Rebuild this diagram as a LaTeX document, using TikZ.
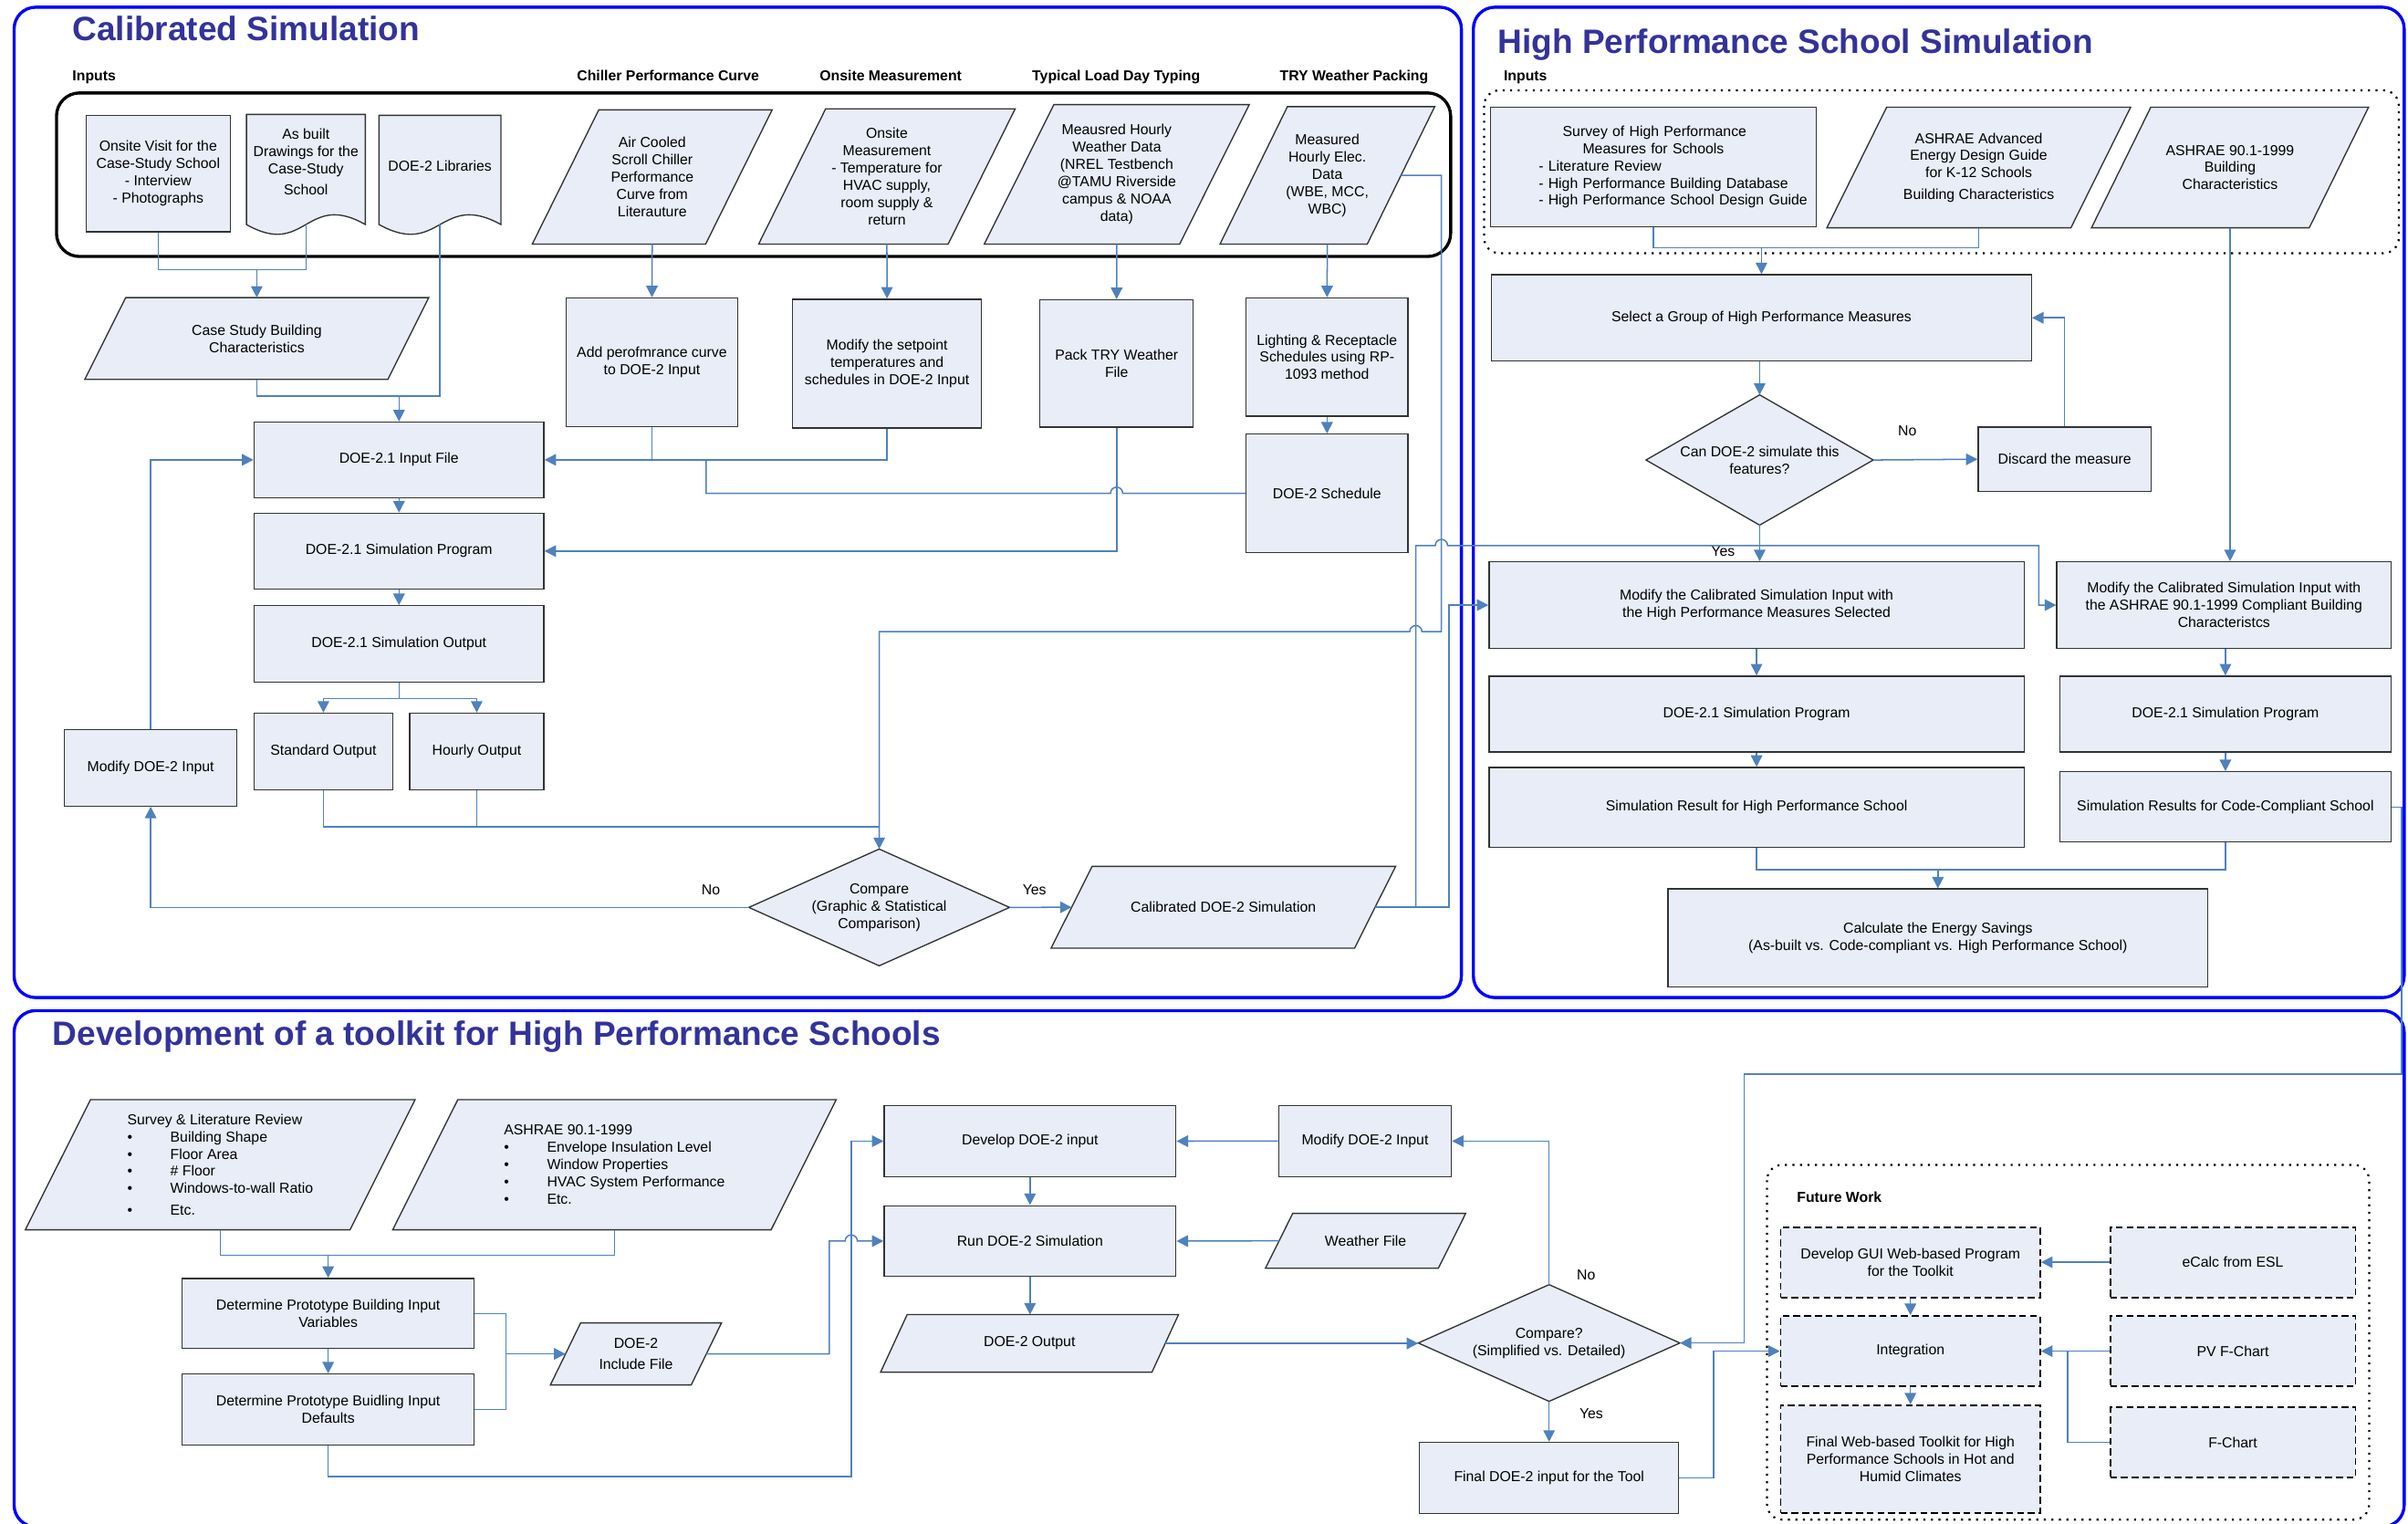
\documentclass[tikz,border=0pt]{standalone}
\usepackage{fontspec}
\setmainfont{Liberation Sans}
\usetikzlibrary{arrows.meta}
\usetikzlibrary{calc, backgrounds}

\definecolor{boxfill}{RGB}{232,237,247}
\definecolor{wireblue}{RGB}{79,129,189}
\definecolor{titleblue}{RGB}{51,51,153}
\definecolor{panelblue}{RGB}{0,0,255}

% outlines drawn behind a named text node
\newcommand\parashape[2]{%
  \begin{pgfonlayer}{background}
  \filldraw[outline] ($(#1.north west)+(#2/2,0)$) -- ($(#1.north east)+(#2/2,0)$)
    -- ($(#1.south east)-(#2/2,0)$) -- ($(#1.south west)-(#2/2,0)$) -- cycle;
  \end{pgfonlayer}}
\newcommand\docshape[2]{%
  \begin{pgfonlayer}{background}
  \filldraw[outline] (#1.north west) -- (#1.north east) -- ($(#1.south east)+(0,#2)$)
    .. controls ($(#1.south)+(0,#2-22)$) and ($(#1.south)+(0,#2+22)$) .. ($(#1.south west)+(0,#2)$) -- cycle;
  \end{pgfonlayer}
  \coordinate (#1-b) at ($(#1.south)+(0,#2)$);}
\newcommand\diashape[1]{%
  \begin{pgfonlayer}{background}
  \filldraw[outline] (#1.north) -- (#1.east) -- (#1.south) -- (#1.west) -- cycle;
  \end{pgfonlayer}}
\newcommand\blt{\makebox[28pt][l]{\textbullet}}

\begin{document}
\begin{tikzpicture}[x=1pt, y=-1pt,
  font=\fontsize{9.4}{11.25}\selectfont,
  sz/.style 2 args={minimum width=#1pt, minimum height=#2pt},
  box/.style={draw=black!80, line width=0.8pt, fill=boxfill, align=center, inner sep=1pt},
  dbox/.style={box, draw=black, line width=1.1pt, dash pattern=on 4.5pt off 2.5pt},
  shapetext/.style={align=center, inner sep=0pt},
  outline/.style={draw=black!80, line width=0.8pt, fill=boxfill},
  wire/.style={draw=wireblue, line width=0.9pt},
  flow/.style={wire, -{Triangle[length=7.5pt, width=7.5pt]}},
  panel/.style={draw=panelblue, line width=2pt, rounded corners=14pt},
  grp/.style={draw=black, line width=2pt, rounded corners=15pt},
  dotgrp/.style={draw=black, line width=1.3pt, dash pattern=on 1.3pt off 3.6pt, rounded corners=10pt},
  paneltitle/.style={font=\fontsize{22}{26}\selectfont\bfseries, text=titleblue, anchor=base west, inner sep=0pt},
  hdr/.style={font=\fontsize{9.4}{11.25}\selectfont\bfseries, anchor=base, inner sep=0pt}
  ]
\useasboundingbox (0,0) rectangle (1568,992);

\draw[panel] (9.2,4.7) rectangle (951.6,649.5);
\draw[panel] (959.4,4.7) rectangle (1565.5,649.5);
\draw[panel] (9.2,658) rectangle (1565.5,994);

%% Calibrated Simulation
\node[paneltitle] (t1) at (47,26.5) {Calibrated Simulation};
\node[hdr, anchor=base west] (h1) at (47,52.6) {Inputs};
\node[hdr] (h2) at (435,52.6) {Chiller Performance Curve};
\node[hdr] (h3) at (580,52.6) {Onsite Measurement};
\node[hdr] (h4) at (726.8,52.6) {Typical Load Day Typing};
\node[hdr] (h5) at (881.7,52.6) {TRY Weather Packing};
\draw[grp] (36.8,60.5) rectangle (944.6,167);

\node[box, sz={94}{76}] (inVisit) at (103,113) {Onsite Visit for the\\Case-Study School\\- Interview\\- Photographs};
\node[shapetext, sz={77}{61.6}] (inDraw) at (199.2,105.5) {As built\\Drawings for the\\Case-Study\\[2.8pt]School};
\docshape{inDraw}{9.7}
\node[shapetext, sz={79}{65}] (inLib) at (286.5,107.8) {DOE-2 Libraries};
\docshape{inLib}{5.7}
\node[shapetext, sz={112.5}{87}] (inChiller) at (424.7,115.2) {Air Cooled\\Scroll Chiller\\Performance\\Curve from\\Literauture};
\parashape{inChiller}{43.3}
\node[shapetext, sz={123}{87.6}] (inOnsite) at (577.5,114.9) {Onsite\\Measurement\\- Temperature for\\HVAC supply,\\room supply \&\\return};
\parashape{inOnsite}{43.6}
\node[shapetext, sz={126.8}{90.4}] (inWeather) at (727.2,113.5) {Meausred Hourly\\Weather Data\\(NREL Testbench\\@TAMU Riverside\\campus \& NOAA\\data)};
\parashape{inWeather}{45.3}
\node[shapetext, sz={95.5}{89.1}] (inElec) at (864.3,114.2) {Measured\\Hourly Elec.\\Data\\(WBE, MCC,\\WBC)};
\parashape{inElec}{43.9}

\node[shapetext, sz={197}{52.8}] (caseStudy) at (167.2,220.4) {Case Study Building\\Characteristics};
\parashape{caseStudy}{26.6}
\node[box, sz={188.7}{49.2}] (inFile) at (259.8,299.4) {DOE-2.1 Input File};
\node[box, sz={111.6}{83.6}] (addCurve) at (424.5,235.8) {Add perofmrance curve\\to DOE-2 Input};
\node[box, sz={122.8}{83.8}] (setpoint) at (577.6,236.7) {Modify the setpoint\\temperatures and\\schedules in DOE-2 Input};
\node[box, sz={99.8}{82.8}] (packTRY) at (727.1,236.6) {Pack TRY Weather\\File};
\node[box, sz={105.2}{77}] (lighting) at (864.1,232.5) {Lighting \& Receptacle\\Schedules using RP-\\1093 method};
\node[box, sz={105.2}{77}] (schedule) at (864.1,321.2) {DOE-2 Schedule};
\node[box, sz={188.7}{49.3}] (simProg) at (259.8,358.8) {DOE-2.1 Simulation Program};
\node[box, sz={188.7}{49.8}] (simOut) at (259.8,419.3) {DOE-2.1 Simulation Output};
\node[box, sz={90.4}{49.8}] (stdOut) at (210.6,489.3) {Standard Output};
\node[box, sz={87.4}{49.8}] (hrOut) at (310.4,489.3) {Hourly Output};
\node[box, sz={112.2}{49.8}] (modIn) at (98.1,499.9) {Modify DOE-2 Input};
\node[shapetext, sz={169.4}{75.6}] (compare) at (572.5,590.8) {Compare\\(Graphic \& Statistical\\Comparison)};
\diashape{compare}
\node[shapetext, sz={197.2}{52.8}] (calib) at (796.6,590.7) {Calibrated DOE-2 Simulation};
\parashape{calib}{26.7}
\node (no1) at (462.9,579.3) {No};
\node (yes1) at (673.6,579.3) {Yes};

%% High Performance School Simulation
\node[paneltitle] (t2) at (975.1,34.6) {High Performance School Simulation};
\node[hdr, anchor=base west] (h6) at (979,52.6) {Inputs};
\draw[dotgrp] (966.4,58.8) rectangle (1562,164.9);

\node[box, sz={211}{77.5}, text width=210pt, align=left] (hpSurvey) at (1076.7,108.75) {\hspace*{45.9pt}Survey of High Performance\\\hspace*{58.9pt}Measures for Schools\\\hspace*{30.2pt}- Literature Review\\\hspace*{30.2pt}- High Performance Building Database\\\hspace*{30.2pt}- High Performance School Design Guide};
\node[shapetext, sz={158.5}{78.1}] (hpAedg) at (1288.5,109.05) {ASHRAE Advanced\\Energy Design Guide\\for K-12 Schools\\[2.6pt]Building Characteristics};
\parashape{hpAedg}{38.9}
\node[shapetext, sz={141.4}{78.1}] (hpAsh) at (1452.1,109.05) {ASHRAE 90.1-1999\\Building\\Characteristics};
\parashape{hpAsh}{38.6}
\node[box, sz={351.5}{56}] (select) at (1147,206.9) {Select a Group of High Performance Measures};
\node[shapetext, sz={147.6}{84.4}] (canSim) at (1145.8,299.5) {Can DOE-2 simulate this\\features?};
\diashape{canSim}
\node[box, sz={112.6}{42}] (discard) at (1344.4,299) {Discard the measure};
\node[box, sz={348.4}{56.3}] (hpMod) at (1143.8,393.95) {Modify the Calibrated Simulation Input with\\the High Performance Measures Selected};
\node[box, sz={217.7}{56.3}] (ashMod) at (1448.15,393.95) {Modify the Calibrated Simulation Input with\\the ASHRAE 90.1-1999 Compliant Building\\Characteristcs};
\node[box, sz={348.4}{49.4}] (hpProg) at (1143.8,464.9) {DOE-2.1 Simulation Program};
\node[box, sz={215.8}{49.4}] (ashProg) at (1449.1,464.9) {DOE-2.1 Simulation Program};
\node[box, sz={348.4}{52.1}] (hpRes) at (1143.8,525.75) {Simulation Result for High Performance School};
\node[box, sz={215.8}{45.8}] (ashRes) at (1449.1,525.4) {Simulation Results for Code-Compliant School};
\node[box, sz={351.6}{63.9}] (savings) at (1261.9,610.75) {Calculate the Energy Savings\\(As-built vs. Code-compliant vs. High Performance School)};
\node (no2) at (1242,280.5) {No};
\node (yes2) at (1122,359.2) {Yes};

%% Development of a toolkit
\node[paneltitle] (t3) at (34.1,680.8) {Development of a toolkit for High Performance Schools};
\node[shapetext, sz={211}{84.3}, align=left] (svLit) at (143.4,758.35) {Survey \& Literature Review\\\blt Building Shape\\\blt Floor Area\\\blt \# Floor\\\blt Windows-to-wall Ratio\\[3pt]\blt Etc.};
\parashape{svLit}{42.4}
\node[shapetext, sz={246}{84.3}, align=left] (ashList) at (400.1,758.35) {ASHRAE 90.1-1999\\\blt Envelope Insulation Level\\\blt Window Properties\\\blt HVAC System Performance\\\blt Etc.};
\parashape{ashList}{42.4}
\node[box, sz={190.2}{45.6}] (detVar) at (213.7,855.2) {Determine Prototype Building Input\\Variables};
\node[box, sz={190.2}{46.1}] (detDef) at (213.7,917.65) {Determine Prototype Buidling Input\\Defaults};
\node[shapetext, sz={91.3}{40}] (incFile) at (414.1,881.5) {DOE-2\\[2.9pt]Include File};
\parashape{incFile}{19.7}
\node[box, sz={190}{46}] (devIn) at (670.7,743) {Develop DOE-2 input};
\node[box, sz={190}{46.1}] (runSim) at (670.7,808.05) {Run DOE-2 Simulation};
\node[shapetext, sz={176.3}{37.1}] (doeOut) at (670.4,874.65) {DOE-2 Output};
\parashape{doeOut}{17.3}
\node[box, sz={112.5}{46.5}] (modIn2) at (888.85,742.95) {Modify DOE-2 Input};
\node[shapetext, sz={112.2}{35.3}] (weather) at (889.2,807.85) {Weather File};
\parashape{weather}{17.8}
\node[shapetext, sz={170}{75.6}] (cmp2) at (1008.7,874.4) {Compare?\\(Simplified vs. Detailed)};
\diashape{cmp2}
\node[box, sz={168.6}{46.3}] (finalIn) at (1008.7,962.25) {Final DOE-2 input for the Tool};
\node (no3) at (1032.8,830.2) {No};
\node (yes3) at (1036.2,920.5) {Yes};

\draw[dotgrp] (1150.6,758.4) rectangle (1542.7,989.4);
\node[hdr, anchor=base west] (h7) at (1169.9,782.6) {Future Work};
\node[dbox, sz={169}{45.8}] (gui) at (1244,821.8) {Develop GUI Web-based Program\\for the Toolkit};
\node[dbox, sz={169}{45.8}] (integ) at (1244,879.7) {Integration};
\node[dbox, sz={169}{70}] (finalKit) at (1244,949.9) {Final Web-based Toolkit for High\\Performance Schools in Hot and\\Humid Climates};
\node[dbox, sz={159.7}{45.8}] (ecalc) at (1453.95,821.8) {eCalc from ESL};
\node[dbox, sz={159.7}{45.8}] (pvf) at (1453.95,879.7) {PV F-Chart};
\node[dbox, sz={159.7}{45.8}] (fchart) at (1453.95,939.2) {F-Chart};

%% routing levels
\coordinate (jA) at (0,175.5);
\coordinate (jB) at (0,257.8);
\coordinate (jC) at (459.8,0);
\coordinate (jD) at (0,454.8);
\coordinate (jE) at (0,538.4);
\coordinate (jG) at (0,411.3);
\coordinate (jH) at (0,355.2);
\coordinate (cL) at (921.9,0);
\coordinate (cR) at (938.6,0);
\coordinate (cS) at (943.4,0);
\coordinate (cM) at (1327.5,0);
\coordinate (jI) at (0,161.3);
\coordinate (jJ) at (0,566.1);
\coordinate (cX) at (1563.7,0);
\coordinate (jK) at (0,699.2);
\coordinate (cY) at (1135.7,0);
\coordinate (jL) at (0,817.2);
\coordinate (cZ) at (329.6,0);
\coordinate (cP) at (540,0);
\coordinate (cQ) at (554.3,0);
\coordinate (jM) at (0,961.2);
\coordinate (cW) at (1115.8,0);
\coordinate (cV) at (1346.3,0);

%% connectors, calibrated simulation
\draw[wire] (inVisit.south) -- (inVisit.south |- jA) -- (inDraw-b |- jA) -- (inDraw-b);
\draw[flow] (caseStudy.north |- jA) -- (caseStudy.north);
\draw[wire] (inLib-b) -- (inLib-b |- jB) -- (caseStudy.south |- jB) -- (caseStudy.south);
\draw[flow] (inFile.north |- jB) -- (inFile.north);
\draw[flow] (inChiller.south) -- (addCurve.north);
\draw[flow] (inOnsite.south) -- (setpoint.north);
\draw[flow] (inWeather.south) -- (packTRY.north);
\draw[flow] (inElec.south) -- (lighting.north);
\draw[flow] (lighting.south) -- (schedule.north);
\draw[flow] (addCurve.south) |- (inFile.east);
\draw[wire] (setpoint.south) |- (addCurve.south |- inFile.east);
\draw[wire] (schedule.west) -- ($(packTRY.south |- schedule.west)+(4,0)$) arc[start angle=0, end angle=180, radius=4pt]
  -- (jC |- schedule.west) -- (jC |- inFile.east);
\draw[flow] (packTRY.south) |- (simProg.east);
\draw[flow] (inFile.south) -- (simProg.north);
\draw[flow] (simProg.south) -- (simOut.north);
\draw[wire] (simOut.south) -- (simOut.south |- jD);
\draw[flow] (simOut.south |- jD) -| (stdOut.north);
\draw[flow] (simOut.south |- jD) -| (hrOut.north);
\draw[wire] (stdOut.south) |- (compare.north |- jE);
\draw[wire] (hrOut.south) -- (hrOut.south |- jE);
\draw[flow] (inElec.east) -| (cR |- jG) -- ($(cL |- jG)+(4,0)$) arc[start angle=0, end angle=180, radius=4pt]
  -- (compare.north |- jG) -- (compare.north);
\draw[flow] (compare.west) -| (modIn.south);
\draw[flow] (modIn.north) |- (inFile.west);
\draw[flow] (compare.east) -- (calib.west);
\draw[flow] (calib.east) -| (cL |- jH) -- ($(cR |- jH)-(4,0)$) arc[start angle=180, end angle=0, radius=4pt]
  -- (cM |- jH) |- (ashMod.west);
\draw[flow] (calib.east) -| (cS |- hpMod.west) -- (hpMod.west);

%% connectors, high performance school
\draw[wire] (hpSurvey.south) |- (hpAedg.south |- jI) -- (hpAedg.south);
\draw[flow] (select.north |- jI) -- (select.north);
\draw[flow] (canSim.north |- select.south) -- (canSim.north);
\draw[flow] (canSim.east) -- (discard.west);
\draw[flow] (discard.north) |- (select.east);
\draw[flow] (canSim.south) -- (canSim.south |- hpMod.north);
\draw[flow] (hpAsh.south) -- (hpAsh.south |- ashMod.north);
\draw[flow] (hpMod.south) -- (hpProg.north);
\draw[flow] (hpProg.south) -- (hpRes.north);
\draw[flow] (ashProg.north |- ashMod.south) -- (ashProg.north);
\draw[flow] (ashProg.south) -- (ashRes.north);
\draw[wire] (hpRes.south) |- (ashRes.south |- jJ) -- (ashRes.south);
\draw[flow] (savings.north |- jJ) -- (savings.north);
\draw[flow] (ashRes.east) -| (cX |- jK) -| (cY |- cmp2.east) -- (cmp2.east);

%% connectors, toolkit
\draw[wire] (svLit.south) |- (ashList.south |- jL) -- (ashList.south);
\draw[flow] (detVar.north |- jL) -- (detVar.north);
\draw[flow] (detVar.south) -- (detDef.north);
\draw[wire] (detVar.east) -| (cZ |- detDef.east) -- (detDef.east);
\draw[flow] (cZ |- incFile.west) -- (incFile.west);
\draw[flow] (incFile.east) -| (cP |- runSim.west) -- ($(cQ |- runSim.west)-(4,0)$) arc[start angle=180, end angle=0, radius=4pt]
  -- (runSim.west);
\draw[flow] (detDef.south) |- (cQ |- jM) |- (devIn.west);
\draw[flow] (devIn.south) -- (runSim.north);
\draw[flow] (runSim.south) -- (runSim.south |- doeOut.north);
\draw[flow] (modIn2.west) -- (devIn.east);
\draw[flow] (weather.west) -- (runSim.east);
\draw[flow] (doeOut.east) -- (doeOut.east -| cmp2.west);
\draw[flow] (cmp2.north) |- (modIn2.east);
\draw[flow] (cmp2.south) -- (finalIn.north);
\draw[flow] (finalIn.east) -| (cW |- integ.west) -- (integ.west);
\draw[flow] (ecalc.west) -- (gui.east);
\draw[flow] (gui.south) -- (integ.north);
\draw[flow] (integ.south) -- (finalKit.north);
\draw[flow] (pvf.west) -- (integ.east);
\draw[wire] (fchart.west) -| (cV |- pvf.west);
\end{tikzpicture}
\end{document}
